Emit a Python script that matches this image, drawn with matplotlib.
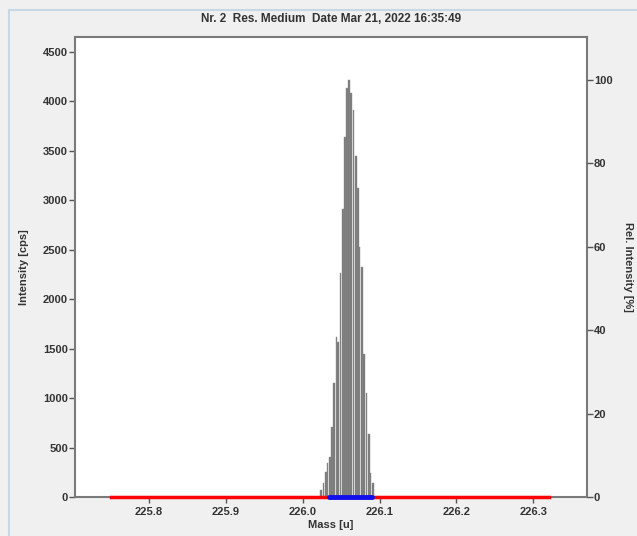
import matplotlib.pyplot as plt
from matplotlib.patches import Rectangle

# Spectrum data
mass = [226.024, 226.027, 226.030, 226.032, 226.035, 226.038, 226.041, 226.044,
        226.046, 226.049, 226.052, 226.055, 226.058, 226.060, 226.063, 226.066,
        226.069, 226.072, 226.074, 226.077, 226.080, 226.083, 226.086, 226.088,
        226.091]
intensity = [70, 140, 250, 340, 400, 710, 1150, 1620, 1570, 2260, 2915, 3640,
             4130, 4216, 4080, 3910, 3450, 3120, 2530, 2320, 1450, 1050, 640,
             240, 140]

scan_range = [225.75, 226.32]    # red line
peak_range = [226.034, 226.090]  # blue line

xticks = [225.8, 225.9, 226.0, 226.1, 226.2, 226.3]
yticks = list(range(0, 4501, 500))
rel_ticks = [0, 20, 40, 60, 80, 100]
title = 'Nr. 2  Res. Medium  Date Mar 21, 2022 16:35:49'

plt.rcParams['font.family'] = ['Liberation Sans', 'DejaVu Sans']
plt.rcParams['font.weight'] = 'bold'

fig = plt.figure(figsize=(6.37, 5.36), dpi=100, facecolor='#f0f0f0')
# window-like border
fig.patches.append(Rectangle((9 / 637, -0.1), 1.2, (536 - 10) / 536 + 0.1,
                             transform=fig.transFigure, fill=False,
                             edgecolor='#c9d6e3', linewidth=1.5))

ax = fig.add_axes([75 / 637, (536 - 497) / 536, 512 / 637, 460 / 536])
ax.set_facecolor('white')

ax.bar(mass, intensity, width=0.0022, color='#7a7a7a', edgecolor='#8c8c8c',
       linewidth=0.3, zorder=2)
ax.plot(scan_range, [0, 0], color='red', linewidth=2.5, clip_on=False, zorder=3)
ax.plot(peak_range, [0, 0], color='#1010ee', linewidth=3.5, clip_on=False,
        solid_capstyle='round', zorder=4)

ax.set_xlim(225.7035, 226.370)
ax.set_ylim(0, 4650)
ax.set_xticks(xticks)
ax.set_xticklabels([f'{v:.1f}' for v in xticks])
ax.set_yticks(yticks)

for s in ax.spines.values():
    s.set_color('#7a7a7a')
    s.set_linewidth(1.5)

ax.tick_params(axis='both', labelsize=8, length=4, width=1, color='#555555',
               labelcolor='#333333', pad=1)
ax.tick_params(axis='x', pad=3)
ax.set_xlabel('Mass [u]', fontsize=8, fontweight='bold', color='#333333', labelpad=2)
ax.set_ylabel('Intensity [cps]', fontsize=8, fontweight='bold', color='#333333',
              labelpad=10)
ax.set_title(title, fontsize=8.5, fontweight='bold', color='#333333', pad=11)

ax2 = ax.twinx()
ax2.set_ylim(0, 4650 * 100 / max(intensity))
ax2.set_yticks(rel_ticks)
ax2.tick_params(axis='y', labelsize=8, length=4, width=1, color='#555555',
                labelcolor='#333333', pad=1)
for s in ax2.spines.values():
    s.set_visible(False)
ax2.set_ylabel('Rel. Intensity [%]', fontsize=8, fontweight='bold', color='#333333',
               rotation=-90, labelpad=15)

fig.savefig('out.png', dpi=100, facecolor=fig.get_facecolor())
